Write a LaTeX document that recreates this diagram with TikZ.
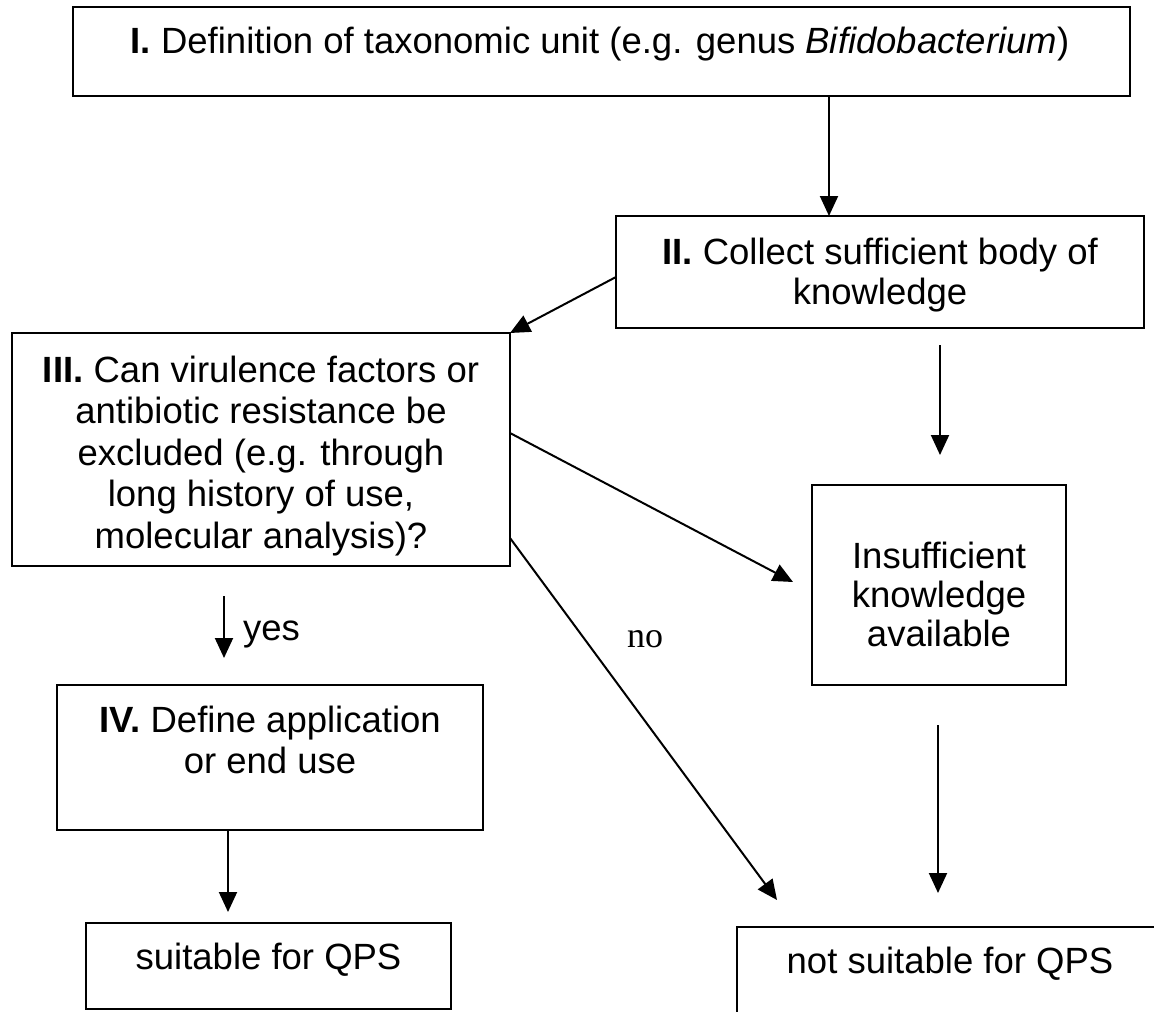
\documentclass[tikz,border=0pt]{standalone}
\usepackage{fontspec}
\setmainfont{Liberation Sans}
\newfontfamily\serifno{Liberation Serif}
\usetikzlibrary{arrows.meta}
\begin{document}
\begin{tikzpicture}[x=1pt,y=-1pt,
  box/.style={draw, line width=2.6pt, inner sep=0pt, outer sep=0pt},
  txt/.style={inner sep=0pt, anchor=base, font=\fontsize{36.5}{41.5}\selectfont},
  arr/.style={line width=2pt, -{Triangle[length=20pt,width=18pt]}}]
\useasboundingbox (0,0) rectangle (1154,1012);
\clip (0,0) rectangle (1154,1012);
\fill[white] (0,0) rectangle (1154,1012);

% Box I
\node[box, minimum width=1057pt, minimum height=89pt] (b1) at (601.5,51.5) {};
\node[txt] (t1) at (600,53) {\textbf{I.} Definition of taxonomic unit (e.g. genus \textit{Bifidobacterium})};

% Box II
\node[box, minimum width=528pt, minimum height=112pt] (b2) at (880,272) {};
\node[txt] (t2a) at (880,264) {\textbf{II.} Collect sufficient body of};
\node[txt] (t2b) at (880,304) {knowledge};

% Box III
\node[box, minimum width=498pt, minimum height=233pt] (b3) at (261,449.5) {};
\node[txt] (t3a) at (261,382) {\textbf{III.} Can virulence factors or};
\node[txt] (t3b) at (261,423.5) {antibiotic resistance be};
\node[txt] (t3c) at (261,465) {excluded (e.g. through};
\node[txt] (t3d) at (261,506.5) {long history of use,};
\node[txt] (t3e) at (261,548) {molecular analysis)?};

% Insufficient knowledge
\node[box, minimum width=254pt, minimum height=200pt] (b4) at (939,585) {};
\node[txt] (t4a) at (939,568) {Insufficient};
\node[txt] (t4b) at (939,607) {knowledge};
\node[txt] (t4c) at (939,646) {available};

% Box IV
\node[box, minimum width=426pt, minimum height=145pt] (b5) at (270,757.5) {};
\node[txt] (t5a) at (270,732) {\textbf{IV.} Define application};
\node[txt] (t5b) at (270,773) {or end use};

% suitable
\node[box, minimum width=365pt, minimum height=86pt] (b6) at (268.5,966) {};
\node[txt] (t6) at (268.5,969) {suitable for QPS};

% not suitable
\node[box, minimum width=427pt, minimum height=118pt] (b7) at (950.5,986) {};
\node[txt] (t7) at (950,973) {not suitable for QPS};

% free ends
\coordinate (c12) at (829,0);
\coordinate (d1) at (940,345);
\coordinate (d2) at (940,455);
\coordinate (e1) at (938,725);
\coordinate (e2) at (938,893);
\coordinate (tipno) at (777,900);
\coordinate (y1) at (224,596);
\coordinate (y2) at (224,658);
\coordinate (c56) at (228,0);
\coordinate (f2) at (228,912);

% connectors
\draw[arr] (b1.south -| c12) -- (b2.north -| c12);
\draw[arr] ([yshift=-5pt]b2.west) -- (b3.north east);
\draw[arr] (d1) -- (d2);
\draw[arr] ([yshift=16.5pt]b3.east) -- ([xshift=-19pt,yshift=3pt]b4.west);
\draw[arr] ([yshift=28pt]b3.south east) -- (tipno);
\draw[arr] (e1) -- (e2);
\draw[arr] (y1) -- (y2);
\draw[arr] (b5.south -| c56) -- (f2);

% labels
\node[txt, anchor=base west] (lyes) at (243,640) {yes};
\node[txt, font=\serifno\fontsize{36}{40}\selectfont] (lno) at (645,647) {no};
\end{tikzpicture}
\end{document}
